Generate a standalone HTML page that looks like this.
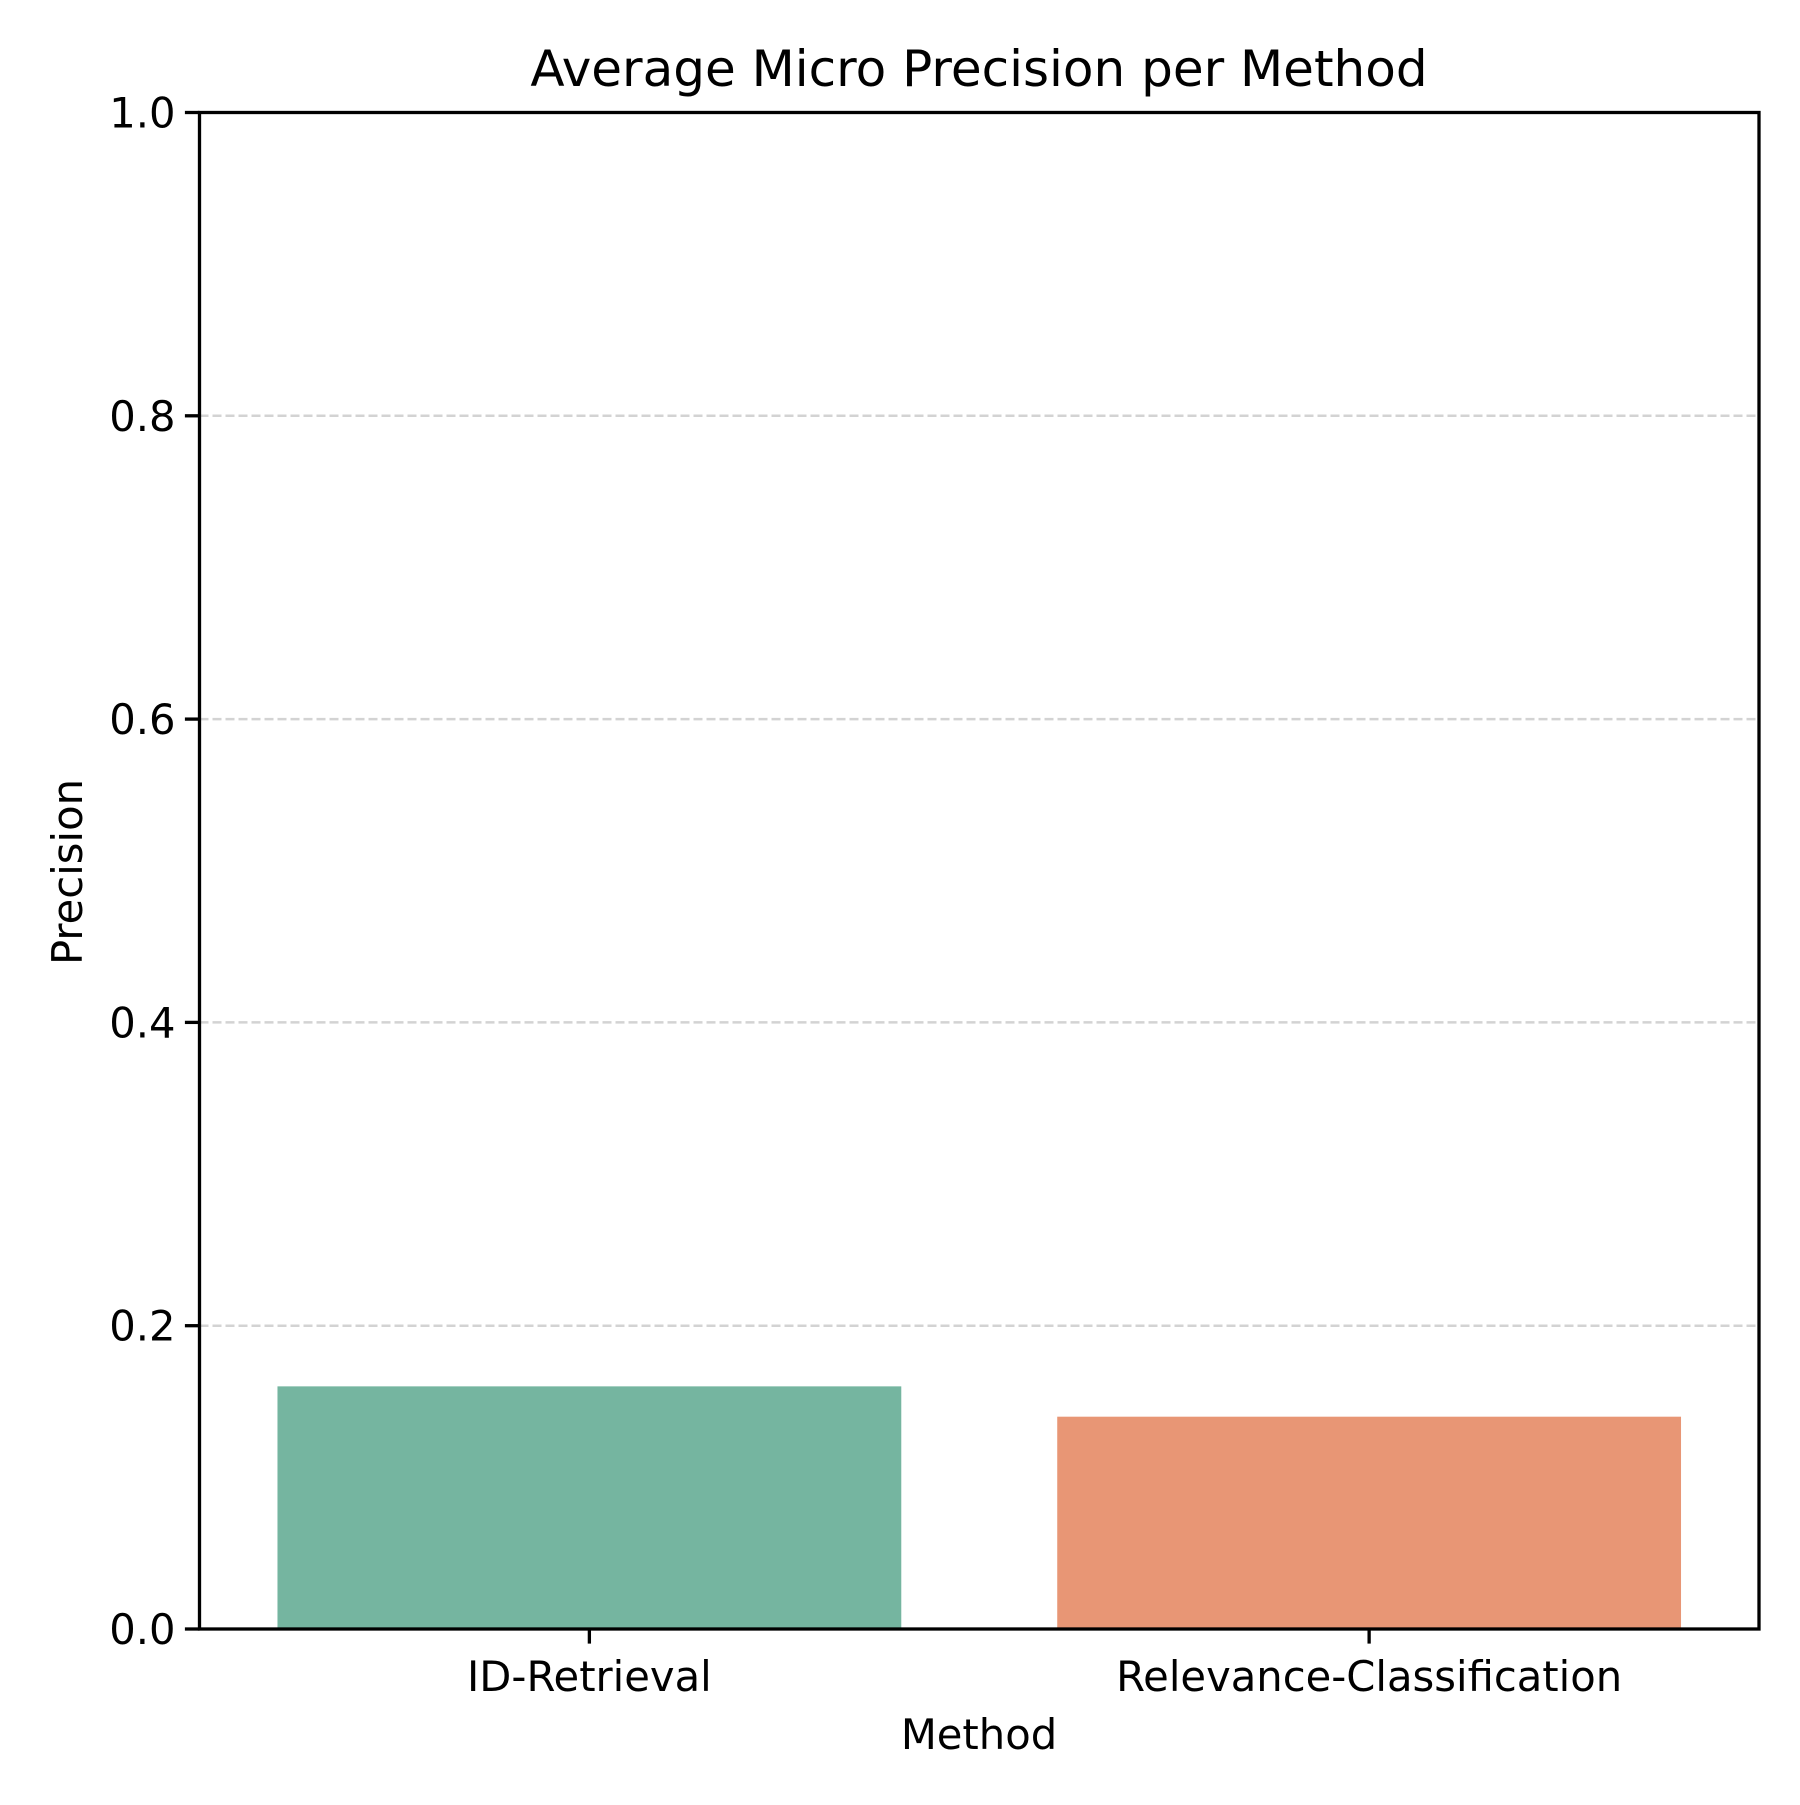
<!DOCTYPE html>
<html><head><meta charset="utf-8"><style>
html,body{margin:0;padding:0;background:#fff;}
svg text{font-family:"DejaVu Sans","Liberation Sans",sans-serif;fill:#000;}
</style></head><body>
<svg id="chart" width="1800" height="1800" xmlns="http://www.w3.org/2000/svg">
<rect width="1800" height="1800" fill="#fff"/>
<text x="979" y="86" font-size="50" text-anchor="middle">Average Micro Precision per Method</text>
<g id="grid"></g><g id="bars"></g><g id="yticks"></g><g id="xticks"></g>
<rect x="199.5" y="112.5" width="1559.5" height="1516.5" fill="none" stroke="#000" stroke-width="3.3"/>
<text x="979" y="1749" font-size="41.7" text-anchor="middle">Method</text>
<text transform="translate(82,872) rotate(-90)" font-size="41.7" text-anchor="middle">Precision</text>
</svg>
<script>
const categories = ["ID-Retrieval", "Relevance-Classification"];
const values = [0.160, 0.140];
const colors = ["#75b5a0", "#e89675"];
const yTicks = [0.0, 0.2, 0.4, 0.6, 0.8, 1.0];
const yTickLabels = ["0.0", "0.2", "0.4", "0.6", "0.8", "1.0"];
const NS = "http://www.w3.org/2000/svg";
const L = 199.5, R = 1759, T = 112.5, B = 1629;
function y(v){ return B - v * (B - T); }
const slot = (R - L) / categories.length;
function xc(i){ return L + slot * (i + 0.5); }
function mk(tag, attrs, parent){ const e = document.createElementNS(NS, tag); for (const k in attrs) e.setAttribute(k, attrs[k]); document.getElementById(parent).appendChild(e); return e; }
yTicks.forEach((t, i) => {
  if (t > 0 && t < 1) {
    const g = mk("line", {x1: L, x2: R, y1: y(t), y2: y(t), stroke: "#d3d3d3", "stroke-width": 2.5, "stroke-dasharray": "9 4"}, "grid");
    
    
  }
  const tk = mk("line", {x1: L - 14.6, x2: L, y1: y(t), y2: y(t), stroke: "#000", "stroke-width": 3.3}, "yticks");
  
  
  const lb = mk("text", {x: L - 24, y: y(t) + 15, "font-size": 41.7, "text-anchor": "end"}, "yticks");
  lb.textContent = yTickLabels[i];
  
  
});
categories.forEach((c, i) => {
  const w = slot * 0.8;
  const b = mk("rect", {x: xc(i) - w / 2, y: y(values[i]), width: w, height: B - y(values[i]), fill: colors[i]}, "bars");
  
  
  const tk = mk("line", {x1: xc(i), x2: xc(i), y1: B, y2: B + 14.6, stroke: "#000", "stroke-width": 3.3}, "xticks");
  
  
  const lb = mk("text", {x: xc(i), y: B + 62, "font-size": 41.7, "text-anchor": "middle"}, "xticks");
  lb.textContent = c;
  
  
});
</script>
</body></html>
